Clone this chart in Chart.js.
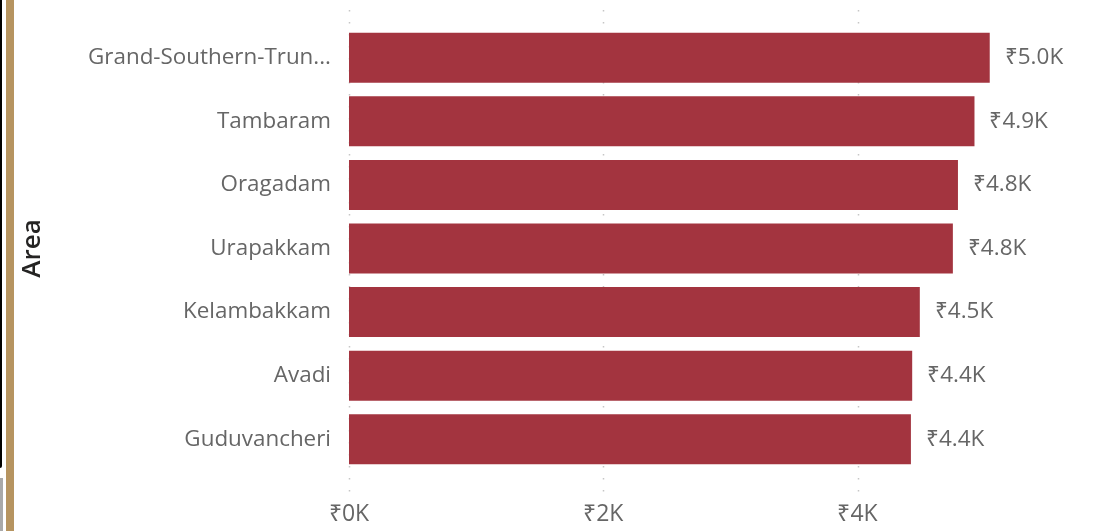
<!DOCTYPE html>
<html>
<head>
<meta charset="utf-8">
<script src="https://cdn.jsdelivr.net/npm/chart.js@4"></script>
<style>
  html, body { margin: 0; padding: 0; background: #fff; }
  #wrap { position: relative; width: 1104px; height: 531px; overflow: hidden; }
  canvas { position: absolute; left: 0; top: 0; }
  .edge-black { position: absolute; left: 0; top: -10px; width: 2px; height: 478px; background: #000; border-bottom-right-radius: 3px; }
  .edge-gray { position: absolute; left: 0; top: 478px; width: 3px; height: 60px; background: #a9a9a9; }
  .edge-tan { position: absolute; left: 6px; top: 0; width: 8px; height: 531px; background: #b69460; }
</style>
</head>
<body>
<div id="wrap">
  <canvas id="c" width="1104" height="531"></canvas>
  <div class="edge-black"></div>
  <div class="edge-gray"></div>
  <div class="edge-tan"></div>
</div>
<script>
const categories = ["Grand-Southern-Trun...", "Tambaram", "Oragadam", "Urapakkam", "Kelambakkam", "Avadi", "Guduvancheri"];
const values = [5040, 4920, 4790, 4750, 4490, 4430, 4420];
const xTicks = [0, 2000, 4000];
const axisTitle = "Area";

const FONT = "'Segoe UI', 'Open Sans', sans-serif";
const fmtK = (v, d) => "\u20B9" + (v / 1000).toFixed(d) + "K";

const dottedGrid = {
  id: 'dottedGrid',
  beforeDatasetsDraw(chart) {
    const ctx = chart.ctx, x = chart.scales.x;
    ctx.save();
    ctx.strokeStyle = '#c6c6c6';
    ctx.lineWidth = 1.5;
    ctx.setLineDash([1.5, 10.5]);
    xTicks.forEach(t => {
      const px = Math.round(x.getPixelForValue(t)) + 0.5;
      ctx.beginPath();
      ctx.moveTo(px, 10);
      ctx.lineTo(px, 496);
      ctx.stroke();
    });
    ctx.restore();
  }
};

const dataLabels = {
  id: 'dataLabels',
  afterDatasetsDraw(chart) {
    const ctx = chart.ctx;
    const meta = chart.getDatasetMeta(0);
    ctx.save();
    ctx.font = "22.5px " + FONT;
    ctx.fillStyle = '#666666';
    ctx.textAlign = 'left';
    ctx.textBaseline = 'middle';
    meta.data.forEach((bar, i) => {
      ctx.fillText(fmtK(values[i], 1), bar.x + 15, bar.y);
    });
    ctx.restore();
  }
};

new Chart(document.getElementById('c'), {
  type: 'bar',
  data: {
    labels: categories,
    datasets: [{
      data: values,
      backgroundColor: '#a3343f',
      borderWidth: 0,
      categoryPercentage: 1.0,
      barPercentage: 0.787
    }]
  },
  options: {
    indexAxis: 'y',
    responsive: false,
    animation: false,
    layout: { padding: { top: 26, right: 24, left: 0, bottom: 0 } },
    plugins: { legend: { display: false }, tooltip: { enabled: false } },
    scales: {
      x: {
        min: 0,
        max: 5750,
        afterBuildTicks(scale) { scale.ticks = xTicks.map(v => ({ value: v })); },
        afterFit(scale) { scale.height = 60; scale.paddingLeft = 0; scale.paddingRight = 0; },
        grid: { display: false, drawTicks: false },
        border: { display: false },
        ticks: {
          padding: 30,
          color: '#666666',
          font: { family: FONT, size: 23 },
          callback: v => fmtK(v, 0)
        }
      },
      y: {
        afterFit(scale) { scale.width = 349; scale.paddingTop = 0; scale.paddingBottom = 0; },
        grid: { display: false, drawTicks: false },
        border: { display: false },
        ticks: {
          padding: 18,
          color: '#666666',
          font: { family: FONT, size: 22.4 }
        },
        title: {
          display: true,
          text: axisTitle,
          color: '#252423',
          font: { family: FONT, size: 26, weight: 600 },
          padding: { top: 17, bottom: 0 }
        }
      }
    }
  },
  plugins: [dottedGrid, dataLabels]
});
</script>
</body>
</html>
